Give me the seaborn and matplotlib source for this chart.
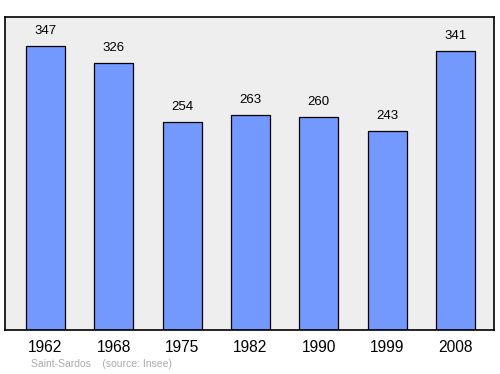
import matplotlib
matplotlib.use("Agg")
import matplotlib.pyplot as plt
import seaborn as sns
import pandas as pd

years = ["1962", "1968", "1975", "1982", "1990", "1999", "2008"]
population = [347, 326, 254, 263, 260, 243, 341]
footer = "Saint-Sardos    (source: Insee)"

sns.set_style("white")
plt.rcParams['font.family'] = ['Liberation Sans', 'DejaVu Sans']

df = pd.DataFrame({"year": years, "pop": population})

fig = plt.figure(figsize=(5, 3.74), dpi=100)
ax = fig.add_axes([0.01, 0.1176, 0.978, 0.837])
ax.set_facecolor("#eeeeee")

sns.barplot(data=df, x="year", y="pop", color="#7399ff", saturation=1,
            edgecolor="black", linewidth=0.9, width=0.571, ax=ax)

for i, v in enumerate(population):
    ax.annotate(str(v), (i, v), xytext=(0, 10.8), textcoords="offset points",
                ha="center", va="center", fontsize=9.5, color="black")

ax.set_xlim(-0.593, 6.563)
ax.set_ylim(0, 382.4)
ax.set_yticks([])
ax.set_xlabel("")
ax.set_ylabel("")
ax.tick_params(axis="x", length=0, pad=7.5, labelsize=11.2, labelcolor="black")
for s in ax.spines.values():
    s.set_visible(True)
    s.set_color("black")
    s.set_linewidth(1.2)

fig.text(31 / 500, 1 - 364 / 374, footer, fontsize=7.5, color="#aaaaaa",
         ha="left", va="center")

fig.savefig("out.png", dpi=100)
